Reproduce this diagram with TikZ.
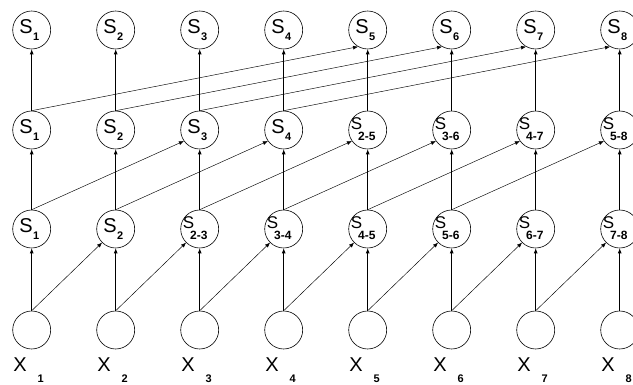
\documentclass[tikz,border=0pt]{standalone}
\usepackage{fontspec}
\setmainfont{Liberation Sans}
\usetikzlibrary{arrows.meta}
% subscript fonts and the two label layouts (single index, index range)
\newcommand\subfnt{\fontsize{11}{11}\selectfont\bfseries}
\newcommand\rangefnt{\fontsize{12}{12}\selectfont\bfseries}
\newcommand\sone[1]{S\kern0.5pt\raisebox{-7pt}{\subfnt #1}}
\newcommand\srange[1]{{\fontsize{17}{17}\selectfont S}\kern-4pt\raisebox{-11pt}{\rangefnt #1}}
\begin{document}
\begin{tikzpicture}[x=1pt,y=-1pt,
  state/.style={circle, draw, line width=0.6pt, minimum size=38pt, inner sep=0pt},
  up/.style={-{Latex[length=5pt,width=4pt]}, line width=0.7pt},
  skip/.style={-{Latex[length=5pt,width=4pt]}, line width=0.45pt},
  slab/.style={anchor=base west, inner sep=0pt, font=\fontsize{20}{20}\selectfont},
]
\useasboundingbox (0,0) rectangle (633,385);
\clip (0,0) rectangle (633,385);

% four rows of eight cells: inputs at the bottom, prefix sums at the top
\foreach \i in {1,...,8} {
  \pgfmathsetmacro\xc{31.7+84*(\i-1)}
  \node[state] (r0-\i) at (\xc,330) {};
  \node[state] (r1-\i) at (\xc,229) {};
  \node[state] (r2-\i) at (\xc,130) {};
  \node[state] (r3-\i) at (\xc,30) {};
  \node[slab] (x\i) at (\xc-18.5,372) {X\kern11pt\raisebox{-11pt}{\subfnt\i}};
}

% labels after step 1 (stride 1)
\foreach \i/\t in {1/1,2/2} \node[slab] (t1-\i) at ([shift={(-12.5,3.5)}]r1-\i.center) {\sone{\t}};
\foreach \i/\t in {3/2-3,4/3-4,5/4-5,6/5-6,7/6-7,8/7-8} \node[slab] (t1-\i) at ([shift={(-17,0)}]r1-\i.center) {\srange{\t}};
% labels after step 2 (stride 2)
\foreach \i/\t in {1/1,2/2,3/3,4/4} \node[slab] (t2-\i) at ([shift={(-12.5,3.5)}]r2-\i.center) {\sone{\t}};
\foreach \i/\t in {5/2-5,6/3-6,7/4-7,8/5-8} \node[slab] (t2-\i) at ([shift={(-17,0)}]r2-\i.center) {\srange{\t}};
% labels after step 3 (stride 4)
\foreach \i in {1,...,8} \node[slab] (t3-\i) at ([shift={(-12.5,3.5)}]r3-\i.center) {\sone{\i}};

% each cell passes its value straight up
\foreach \i in {1,...,8} {
  \foreach \k/\n in {0/1,1/2,2/3} \draw[up] (r\k-\i.north) -- (r\n-\i.south);
}
% and to the cell 1, 2, 4 places to the right
\foreach \i in {1,...,7} { \pgfmathtruncatemacro\j{\i+1} \draw[skip] (r0-\i.north) -- (r1-\j.225); }
\foreach \i in {1,...,6} { \pgfmathtruncatemacro\j{\i+2} \draw[skip] (r1-\i.north) -- (r2-\j.215); }
\foreach \i in {1,...,4} { \pgfmathtruncatemacro\j{\i+4} \draw[skip] (r2-\i.north) -- (r3-\j.240); }
\end{tikzpicture}
\end{document}
